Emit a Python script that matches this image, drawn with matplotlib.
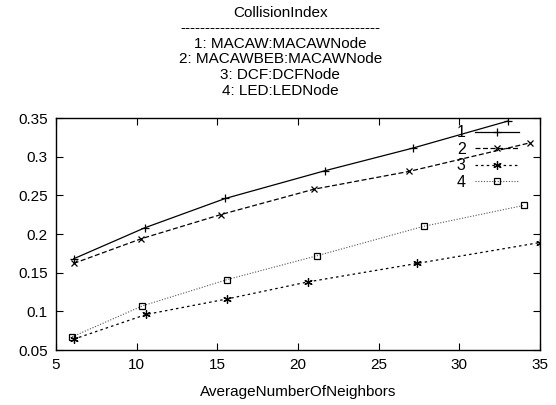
import matplotlib
import numpy as np

matplotlib.use("Agg")
import matplotlib.pyplot as plt  # noqa: E402

plt.rcParams["font.family"] = ["Liberation Sans", "DejaVu Sans"]

# CollisionIndex vs AverageNumberOfNeighbors
x1 = [6.1, 10.5, 15.5, 21.7, 27.1, 33.0]
y1 = [0.168, 0.208, 0.246, 0.282, 0.311, 0.346]
x2 = [6.1, 10.3, 15.2, 21.0, 26.9, 34.4]
y2 = [0.162, 0.194, 0.225, 0.258, 0.281, 0.318]
x3 = [6.1, 10.6, 15.6, 20.6, 27.4, 35.0]
y3 = [0.064, 0.096, 0.116, 0.138, 0.162, 0.189]
x4 = [6.0, 10.35, 15.6, 21.2, 27.8, 34.0]
y4 = [0.067, 0.107, 0.141, 0.172, 0.210, 0.237]
labels = ["1", "2", "3", "4"]
title_lines = ["CollisionIndex",
               "-" * 40,
               "1: MACAW:MACAWNode",
               "2: MACAWBEB:MACAWNode",
               "3: DCF:DCFNode",
               "4: LED:LEDNode"]

fig = plt.figure(figsize=(5.56, 4.05), dpi=100)
ax = fig.add_axes([0.1007, 0.1358, 0.8705, 0.5728])

ax.plot(x1, y1, "-", color="black", lw=0.9, marker="+", ms=6, mew=0.9, label=labels[0])
ax.plot(x2, y2, color="black", lw=0.9, ls=(0, (4, 2)), marker="x", ms=5, mew=0.9,
        label=labels[1])
ax.plot(x3, y3, color="black", lw=0.9, ls=(0, (2, 2.5)), marker=(6, 2, 0), ms=6, mew=0.9,
        label=labels[2])
ax.plot(x4, y4, color="#555555", lw=0.8, ls=(0, (1, 1.5)), marker="s", ms=5,
        mfc="none", mec="black", mew=0.9, label=labels[3])

ax.set_xlim(5, 35)
ax.set_ylim(0.05, 0.35)
ax.set_xticks(np.arange(5, 36, 5))
ax.set_yticks(np.arange(0.05, 0.351, 0.05))
ax.set_yticklabels(["0.05", "0.1", "0.15", "0.2", "0.25", "0.3", "0.35"])
ax.tick_params(direction="in", top=True, right=True, length=5, labelsize=11, pad=6)
for s in ax.spines.values():
    s.set_linewidth(1.0)
ax.set_xlabel("AverageNumberOfNeighbors", fontsize=11, labelpad=9)

leg = ax.legend(loc="upper right", frameon=False, markerfirst=False, fontsize=11.5,
                handlelength=2.75, labelspacing=0.1, borderaxespad=0.2,
                handletextpad=0.6, bbox_to_anchor=(0.9765, 1.01))

for i, t in enumerate(title_lines):
    fig.text(0.504, 0.968 - i * 0.0383, t, ha="center", va="center", fontsize=11)

fig.savefig("out.png", dpi=100)
